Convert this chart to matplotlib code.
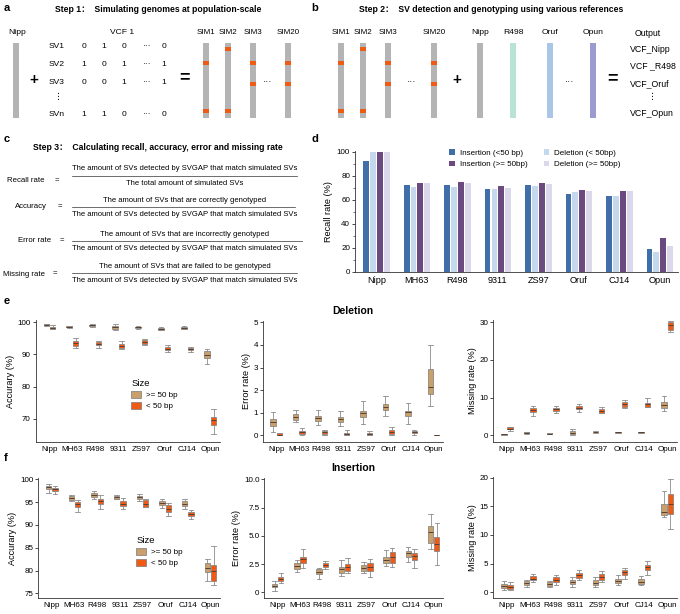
import numpy as np
import matplotlib
matplotlib.use("Agg")
import matplotlib.pyplot as plt
from matplotlib.patches import Rectangle, Patch
from matplotlib.ticker import FuncFormatter, MultipleLocator

plt.rcParams['font.family'] = ['Liberation Sans', 'Noto Sans CJK SC', 'DejaVu Sans']
plt.rcParams['axes.linewidth'] = 0.6

# ------------------------------
# DATA
# ------------------------------
refs = ["Nipp", "MH63", "R498", "9311", "ZS97", "Oruf", "CJ14", "Opun"]

# panel d: recall rate (%)
recall_ins_small = [92.2, 72.0, 72.0, 69.0, 72.0, 64.7, 63.3, 18.6]
recall_del_small = [100.0, 71.0, 71.0, 68.6, 71.4, 66.4, 63.3, 16.1]
recall_ins_large = [100.0, 74.0, 74.7, 71.4, 74.0, 68.3, 67.2, 28.3]
recall_del_large = [100.0, 74.0, 74.0, 70.0, 73.0, 67.2, 67.5, 21.7]

# box stats per reference: (whisker low, q1, median, q3, whisker high)
del_acc_large = [(98.8, 99.0, 99.2, 99.4, 99.5), (98.3, 98.4, 98.6, 98.8, 98.9),
                 (98.6, 98.8, 99.0, 99.2, 99.3), (97.6, 98.0, 98.4, 98.9, 99.5),
                 (98.0, 98.1, 98.4, 98.6, 98.8), (97.6, 97.7, 98.0, 98.3, 98.5),
                 (97.8, 97.9, 98.2, 98.6, 98.8), (87.1, 88.8, 89.9, 90.9, 91.6)]
del_acc_small = [(97.8, 97.9, 98.2, 98.5, 99.0), (92.1, 92.7, 93.5, 94.0, 95.0),
                 (92.1, 92.8, 93.3, 93.7, 94.2), (91.7, 92.1, 92.7, 93.2, 94.0),
                 (92.8, 93.3, 93.8, 94.3, 94.8), (90.7, 91.2, 91.7, 92.2, 92.8),
                 (90.6, 91.2, 91.6, 92.1, 92.2), (65.3, 68.2, 69.7, 70.7, 73.1)]
del_err_large = [(0.16, 0.43, 0.59, 0.71, 1.05), (0.60, 0.68, 0.83, 0.93, 1.12),
                 (0.46, 0.62, 0.75, 0.87, 1.12), (0.41, 0.59, 0.72, 0.83, 1.08),
                 (0.50, 0.80, 0.97, 1.09, 1.52), (0.86, 1.12, 1.24, 1.37, 1.74),
                 (0.50, 0.86, 1.02, 1.08, 1.45), (1.31, 1.83, 2.12, 2.92, 4.00)]
del_err_small = [(0.0, 0.0, 0.03, 0.09, 0.12), (0.0, 0.05, 0.13, 0.20, 0.33),
                 (0.0, 0.07, 0.13, 0.19, 0.22), (0.0, 0.0, 0.05, 0.12, 0.22),
                 (0.0, 0.0, 0.05, 0.10, 0.20), (0.0, 0.06, 0.13, 0.24, 0.36),
                 (0.0, 0.09, 0.15, 0.21, 0.23), (0.0, 0.0, 0.0, 0.0, 0.0)]
del_mis_large = [(0.15, 0.20, 0.27, 0.35, 0.40), (0.40, 0.55, 0.70, 0.85, 1.00),
                 (0.30, 0.35, 0.45, 0.55, 0.60), (0.0, 0.35, 0.70, 1.15, 1.60),
                 (0.70, 0.80, 0.90, 1.00, 1.10), (0.60, 0.70, 0.80, 0.90, 1.00),
                 (0.60, 0.70, 0.80, 0.90, 1.00), (6.5, 7.3, 8.1, 8.9, 10.3)]
del_mis_small = [(1.2, 1.6, 1.8, 2.1, 2.3), (5.1, 6.1, 6.7, 7.2, 7.8),
                 (6.0, 6.5, 6.9, 7.3, 7.8), (6.3, 6.9, 7.3, 7.8, 8.2),
                 (5.8, 6.0, 6.4, 7.0, 7.4), (7.2, 7.6, 8.2, 8.8, 9.4),
                 (7.4, 7.6, 8.2, 8.7, 9.8), (27.3, 28.0, 29.2, 30.0, 30.4)]

ins_acc_large = [(97.1, 97.9, 98.25, 98.6, 99.0), (95.3, 95.5, 96.0, 96.3, 96.6),
                 (95.8, 96.1, 96.6, 96.9, 97.4), (95.7, 95.8, 96.05, 96.3, 96.5),
                 (95.2, 95.7, 96.05, 96.3, 96.7), (93.8, 94.4, 94.9, 95.3, 95.8),
                 (93.6, 94.2, 94.7, 95.3, 95.7), (77.6, 79.7, 80.5, 81.7, 82.6)]
ins_acc_small = [(96.7, 97.5, 97.9, 98.2, 98.5), (92.9, 94.0, 94.5, 95.1, 95.5),
                 (93.4, 94.7, 95.3, 95.8, 96.6), (93.6, 94.2, 94.7, 95.3, 96.0),
                 (93.9, 94.0, 94.7, 95.5, 95.8), (92.0, 92.9, 93.6, 94.4, 94.9),
                 (91.4, 92.0, 92.4, 92.8, 93.3), (76.8, 77.8, 79.8, 81.1, 85.4)]
ins_err_large = [(0.15, 0.44, 0.59, 0.74, 1.00), (1.83, 2.04, 2.33, 2.63, 2.86),
                 (1.15, 1.62, 1.83, 2.04, 2.18), (1.47, 1.68, 2.04, 2.27, 2.86),
                 (1.68, 1.92, 2.18, 2.43, 2.71), (2.36, 2.57, 2.83, 3.16, 3.75),
                 (2.71, 3.16, 3.51, 3.66, 3.98), (3.80, 4.34, 5.37, 5.87, 6.90)]
ins_err_small = [(0.80, 1.03, 1.21, 1.39, 1.74), (2.18, 2.63, 2.98, 3.16, 3.80),
                 (2.04, 2.21, 2.39, 2.63, 2.77), (1.74, 1.92, 2.21, 2.48, 3.00),
                 (1.39, 1.92, 2.21, 2.57, 2.92), (2.27, 2.57, 3.13, 3.54, 3.89),
                 (2.18, 2.86, 3.22, 3.45, 3.80), (2.42, 3.69, 4.28, 4.93, 6.10)]
ins_mis_large = [(0.41, 0.71, 1.12, 1.42, 1.89), (1.00, 1.30, 1.59, 1.89, 2.18),
                 (0.88, 1.12, 1.42, 1.71, 2.00), (0.88, 1.42, 1.77, 2.18, 2.60),
                 (0.88, 1.18, 1.59, 2.06, 2.60), (1.30, 1.59, 1.89, 2.30, 3.07),
                 (1.30, 1.42, 1.77, 2.30, 2.89), (13.1, 13.5, 13.98, 15.46, 17.64)]
ins_mis_small = [(0.41, 0.59, 1.00, 1.30, 1.71), (1.71, 2.06, 2.36, 2.77, 3.19),
                 (1.30, 1.71, 2.18, 2.60, 3.07), (2.06, 2.48, 2.95, 3.36, 3.83),
                 (1.71, 2.18, 2.65, 3.19, 3.66), (2.36, 2.95, 3.48, 3.95, 4.25),
                 (3.07, 3.95, 4.42, 4.84, 5.43), (11.03, 13.69, 15.46, 17.23, 19.76)]

# diagram content
sv_rows = ["SV1", "SV2", "SV3", "SVn"]
sv_matrix = [["0", "1", "0", "···", "0"],
             ["1", "0", "1", "···", "1"],
             ["0", "0", "1", "···", "1"],
             ["1", "1", "0", "···", "0"]]
sim_names = ["SIM1", "SIM2", "SIM3", "SIM20"]
sim_marks = [[63, 111], [49, 111], [63, 84], [63, 84]]
ref_names = ["Nipp", "R498", "Oruf", "Opun"]
ref_colors = ["#b4b4b4", "#b9e3d2", "#a9c6e6", "#9b9bd0"]
outputs = ["VCF_Nipp", "VCF _R498", "VCF_Oruf", "VCF_Opun"]

eq_labels = ["Recall rate", "Accuracy", "Error rate", "Missing rate"]
eq_nums = ["The amount of SVs detected by SVGAP that match simulated SVs",
           "The amount of SVs that are correctly genotyped",
           "The amount of SVs that are incorrectly genotyped",
           "The amount of SVs that are failed to be genotyped"]
eq_dens = ["The total amount of simulated SVs",
           "The amount of SVs detected by SVGAP that match simulated SVs",
           "The amount of SVs detected by SVGAP that match simulated SVs",
           "The amount of SVs detected by SVGAP that match simulated SVs"]

GRAY = "#b4b4b4"
ORANGE = "#f05a14"
TAN = "#c9a06b"

W, H = 680, 614
fig = plt.figure(figsize=(W / 100, H / 100), dpi=100)

# overlay in pixel coordinates for the diagrams
ov = fig.add_axes([0, 0, 1, 1])
ov.set_xlim(0, W)
ov.set_ylim(H, 0)
ov.axis("off")


def txt(x, y, s, size=6.1, **kw):
    kw.setdefault("ha", "center")
    kw.setdefault("va", "center")
    ov.text(x, y, s, fontsize=size, **kw)


def chrom(x, color=GRAY, marks=()):
    ov.add_patch(Rectangle((x - 3, 43), 6, 75, color=color, lw=0))
    for m in marks:
        ov.add_patch(Rectangle((x - 3, m - 2), 6, 4, color=ORANGE, lw=0))


# panel letters
for lab, x, y in [("a", 4, 8), ("b", 311, 8), ("c", 4, 139), ("d", 311, 139),
                  ("e", 4, 301), ("f", 4, 458)]:
    txt(x, y, lab, 8, fontweight="bold", ha="left")

# ---- panel a
txt(158, 9, "Step 1：  Simulating genomes at population-scale", 6.2, fontweight="bold")
txt(17, 33, "Nipp")
chrom(16)
txt(34, 80, "+", 11, fontweight="bold")
txt(122, 33, "VCF 1")
row_y = [47, 65, 83, 115]
col_x = [84, 104, 124, 147, 164]
for i, r in enumerate(sv_rows):
    txt(49, row_y[i], r, ha="left")
    for j, v in enumerate(sv_matrix[i]):
        txt(col_x[j], row_y[i], v)
txt(59, 97, "⋮", 6.5)
txt(185, 78, "=", 13, fontweight="bold")
sim_x_a = [206, 228, 253, 288]
for i, s in enumerate(sim_names):
    txt(sim_x_a[i], 33, s, 5.8)
    chrom(sim_x_a[i], marks=sim_marks[i])
txt(268, 82, "···", 7)

# ---- panel b
txt(491, 9, "Step 2：  SV detection and genotyping using various references", 6.2,
    fontweight="bold")
sim_x_b = [341, 363, 388, 434]
for i, s in enumerate(sim_names):
    txt(sim_x_b[i], 33, s, 5.8)
    chrom(sim_x_b[i], marks=sim_marks[i])
txt(412, 82, "···", 7)
txt(457, 80, "+", 11, fontweight="bold")
ref_x = [480, 513, 550, 593]
for i, r in enumerate(ref_names):
    txt(ref_x[i], 33, r)
    chrom(ref_x[i], color=ref_colors[i])
txt(570, 82, "···", 7)
txt(612, 79, "=", 13, fontweight="bold")
txt(648, 33, "Output", 6.3)
out_y = [49, 66, 84, 114]
for i, o in enumerate(outputs):
    txt(630, out_y[i], o, 6.3, ha="left")
txt(652, 97, "⋮", 6.5)

# ---- panel c
txt(158, 147, "Step 3：  Calculating recall, accuracy, error and missing rate", 6.2,
    fontweight="bold")
line_y = [176, 207, 241, 273]
lab_y = [181, 207, 241, 274]
lab_x = [26, 31, 35, 24]
eq_x = [57, 60, 62, 55]
line_end = [297, 295, 302, 297]
for i in range(4):
    txt(lab_x[i], lab_y[i], eq_labels[i], 5.6)
    txt(eq_x[i], lab_y[i], "=", 5.6)
    ov.plot([72, line_end[i]], [line_y[i], line_y[i]], color="#333333", lw=0.5)
    txt(185, line_y[i] - 7, eq_nums[i], 5.5)
    txt(185, line_y[i] + 7.5, eq_dens[i], 5.5)


def px_axes(l, t, r, b):
    return fig.add_axes([l / W, 1 - b / H, (r - l) / W, (b - t) / H])


def style(ax):
    for s in ["top", "right"]:
        ax.spines[s].set_visible(False)
    for s in ["left", "bottom"]:
        ax.spines[s].set_color("#333333")
    ax.tick_params(axis="x", length=0, labelsize=5.8, pad=3)
    ax.tick_params(axis="y", length=2, width=0.5, labelsize=5.8, pad=1.5)


# ---- panel d
axd = px_axes(355, 150.5, 678, 271.7)
x = np.arange(len(refs))
bw = 0.145
axd.bar(x - 0.255, recall_ins_small, bw, color="#3f6ea8", label="Insertion (<50 bp)")
axd.bar(x - 0.085, recall_del_small, bw, color="#c5d8ee", label="Deletion (< 50bp)")
axd.bar(x + 0.085, recall_ins_large, bw, color="#6b4a80", label="Insertion (>= 50bp)")
axd.bar(x + 0.255, recall_del_large, bw, color="#dcd8ec", label="Deletion (>= 50bp)")
axd.set_xlim(-0.53, 7.45)
axd.set_ylim(0, 101)
style(axd)
axd.tick_params(axis="x", labelsize=6.6)
axd.tick_params(axis="y", labelsize=5.8)
axd.set_yticks([0, 20, 40, 60, 80, 100])
axd.yaxis.set_minor_locator(MultipleLocator(10))
axd.tick_params(axis="y", which="minor", length=1.2, width=0.4)
axd.set_xticks(x)
axd.set_xticklabels(refs)
axd.set_ylabel("Recall rate (%)", fontsize=6.6, labelpad=3)
h, l = axd.get_legend_handles_labels()
order = [0, 2, 1, 3]
axd.legend([h[i] for i in order], [l[i] for i in order], ncol=2, frameon=False,
           loc="upper left", bbox_to_anchor=(0.27, 1.07), fontsize=5.8,
           handlelength=0.7, handleheight=0.7, handletextpad=0.6,
           columnspacing=2.0, labelspacing=0.45)


# ---- box panels
def draw_boxes(ax, stats, offset, color):
    s = [dict(whislo=a, q1=b, med=c, q3=d, whishi=e, fliers=[])
         for (a, b, c, d, e) in stats]
    ax.bxp(s, positions=np.arange(len(stats)) + offset, widths=0.24,
           patch_artist=True, showfliers=False, manage_ticks=False,
           boxprops=dict(facecolor=color, edgecolor="#7a7a7a", linewidth=0.5),
           whiskerprops=dict(color="#8c8c8c", linewidth=0.6),
           capprops=dict(color="#8c8c8c", linewidth=0.6),
           medianprops=dict(color="#5a4030", linewidth=0.7),
           capwidths=0.2)


def box_panel(ax, large, small, ylim, yticks, ylabel, fmt=None):
    draw_boxes(ax, large, -0.14, TAN)
    draw_boxes(ax, small, 0.14, ORANGE)
    ax.set_xlim(-0.6, 7.42)
    ax.set_ylim(*ylim)
    ax.set_yticks(yticks)
    if fmt is not None:
        ax.yaxis.set_major_formatter(FuncFormatter(fmt))
    ax.set_xticks(np.arange(len(refs)))
    ax.set_xticklabels(refs)
    style(ax)
    ax.set_ylabel(ylabel, fontsize=6.6, labelpad=2)


def size_legend(ax, bx):
    hs = [Patch(facecolor=TAN, edgecolor="#7a7a7a", lw=0.5),
          Patch(facecolor=ORANGE, edgecolor="#7a7a7a", lw=0.5)]
    lg = ax.legend(hs, [">= 50 bp", "< 50 bp"], title="Size", frameon=False,
                   loc="upper left", bbox_to_anchor=(bx, 0.58), fontsize=5.8,
                   title_fontsize=6.8, handlelength=1.2, handleheight=0.9,
                   handletextpad=0.6, labelspacing=0.4)
    lg._legend_box.align = "left"


err_fmt = lambda v, p: "0" if v == 0 else "%.1f" % v

ae1 = px_axes(35.7, 320.5, 220, 441.7)
box_panel(ae1, del_acc_large, del_acc_small, (62.9, 100.5), [70, 80, 90, 100], "Accurary (%)")
size_legend(ae1, 0.48)

ae2 = px_axes(262.7, 321.2, 443, 441.7)
box_panel(ae2, del_err_large, del_err_small, (-0.28, 5.05), [0, 1, 2, 3, 4, 5], "Error rate (%)")
ae2.set_title("Deletion", fontsize=7.5, fontweight="bold", pad=5)

ae3 = px_axes(493.3, 320.4, 676.7, 441.7)
box_panel(ae3, del_mis_large, del_mis_small, (-1.7, 30.5), [0, 10, 20, 30], "Missing rate (%)")

af1 = px_axes(38.3, 478, 220, 598.3)
box_panel(af1, ins_acc_large, ins_acc_small, (73.9, 100.3), [75, 80, 85, 90, 95, 100], "Accurary (%)")
size_legend(af1, 0.5)

af2 = px_axes(264.3, 478.2, 443, 598.3)
box_panel(af2, ins_err_large, ins_err_small, (-0.53, 10.1), [0, 2.5, 5.0, 7.5, 10.0],
          "Error rate (%)", fmt=err_fmt)
af2.set_title("Insertion", fontsize=7.5, fontweight="bold", pad=5)

af3 = px_axes(493.3, 476.6, 676.7, 598.3)
box_panel(af3, ins_mis_large, ins_mis_small, (-1.06, 20.2), [0, 5, 10, 15, 20], "Missing rate (%)")

fig.savefig("out.png", dpi=100)
